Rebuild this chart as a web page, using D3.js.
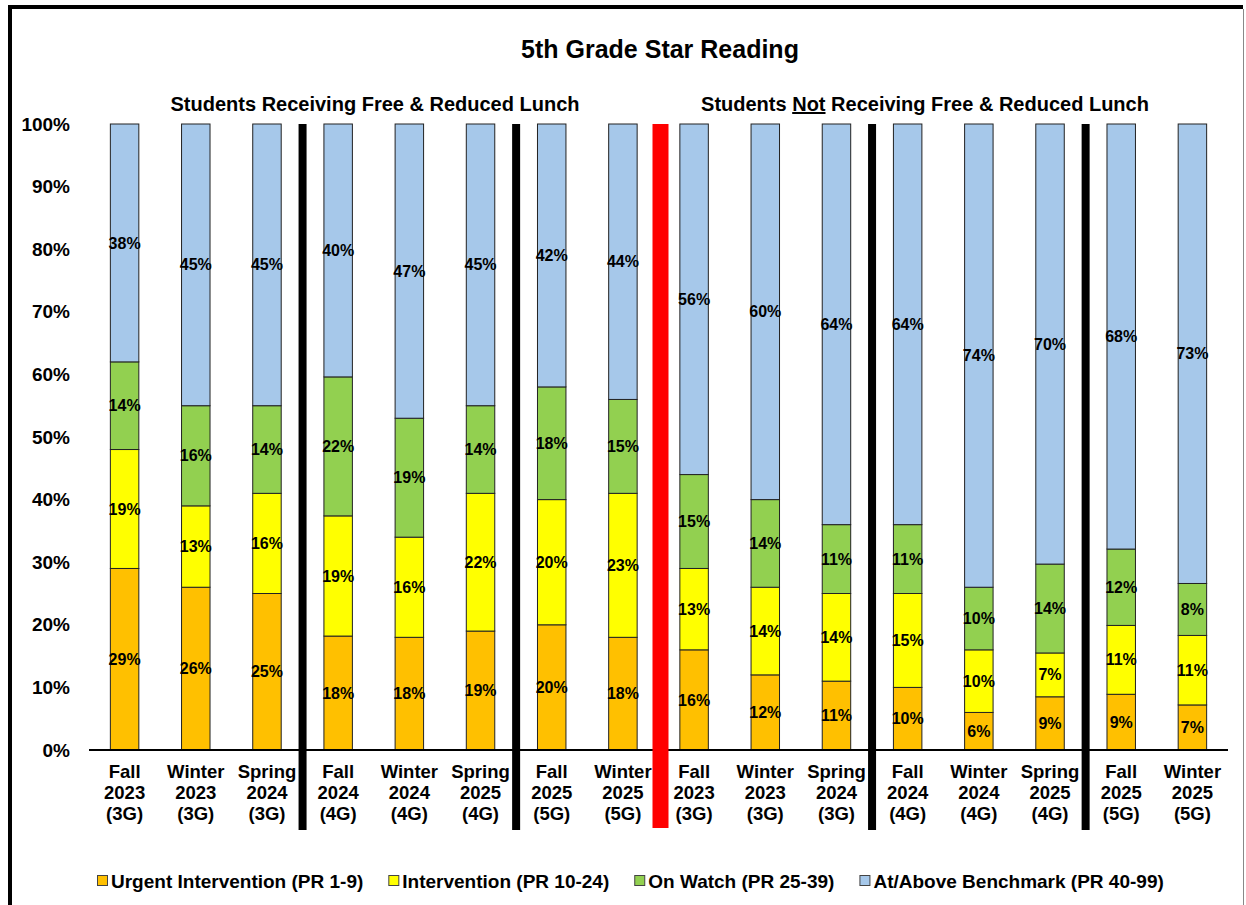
<!DOCTYPE html>
<html>
<head>
<meta charset="utf-8">
<script src="https://cdn.jsdelivr.net/npm/d3@7"></script>
<style>
    body { margin: 0; background: #fff; }
    text { font-family: "Liberation Sans", Arial, sans-serif; font-weight: bold; fill: #000; }
</style>
</head>
<body>
<div id="content"></div>
<script>
let categories = [
    ["Fall", "2023", "(3G)"], ["Winter", "2023", "(3G)"], ["Spring", "2024", "(3G)"],
    ["Fall", "2024", "(4G)"], ["Winter", "2024", "(4G)"], ["Spring", "2025", "(4G)"],
    ["Fall", "2025", "(5G)"], ["Winter", "2025", "(5G)"],
    ["Fall", "2023", "(3G)"], ["Winter", "2023", "(3G)"], ["Spring", "2024", "(3G)"],
    ["Fall", "2024", "(4G)"], ["Winter", "2024", "(4G)"], ["Spring", "2025", "(4G)"],
    ["Fall", "2025", "(5G)"], ["Winter", "2025", "(5G)"]
];

// percent of students in each band, bottom to top
let urgent       = [29, 26, 25, 18.2, 18, 19, 20, 18, 16, 12, 11, 10, 6, 8.5, 8.9, 7.2];
let intervention = [19, 13, 16, 19.2, 16, 22, 20, 23, 13, 14, 14, 15, 10, 7.0, 11.0, 11.1];
let onWatch      = [14, 16, 14, 22.2, 19, 14, 18, 15, 15, 14, 11, 11, 10, 14.2, 12.2, 8.3];
let benchmark    = [38, 45, 45, 40.4, 47, 45, 42, 44, 56, 60, 64, 64, 74, 70.3, 67.9, 73.4];

let seriesNames = ["Urgent Intervention (PR 1-9)", "Intervention (PR 10-24)", "On Watch (PR 25-39)", "At/Above Benchmark (PR 40-99)"];
let seriesColors = ["#FFC000", "#FFFF00", "#92D050", "#A6C8EA"];

let yTicks = [0, 10, 20, 30, 40, 50, 60, 70, 80, 90, 100];

// separators sit between categories: index of the bar to the right
let blackSeparators = [3, 6, 11, 14];
let redSeparators = [8];

const width = 1246, height = 905;
const plot = {left: 89, right: 1228, top: 124, bottom: 750};

let svg = d3.select("#content")
    .append("svg")
    .attr("width", width)
    .attr("height", height);

// frame
svg.append("line").attr("x1", 8).attr("x2", 1243).attr("y1", 7).attr("y2", 7)
    .attr("stroke", "#000").attr("stroke-width", 4);
svg.append("line").attr("x1", 10).attr("x2", 10).attr("y1", 5).attr("y2", height)
    .attr("stroke", "#000").attr("stroke-width", 4);
svg.append("line").attr("x1", 1243.5).attr("x2", 1243.5).attr("y1", 9).attr("y2", height)
    .attr("stroke", "#888").attr("stroke-width", 1);

const x = d3.scaleBand()
    .domain(d3.range(categories.length))
    .range([plot.left, plot.right])
    .paddingInner(0.6)
    .paddingOuter(0.3);

const y = d3.scaleLinear()
    .domain([0, 100])
    .range([plot.bottom, plot.top]);

let rows = categories.map(function(c, i)
{
    return {i: i, s0: urgent[i], s1: intervention[i], s2: onWatch[i], s3: benchmark[i]};
});

let stack = d3.stack().keys(["s0", "s1", "s2", "s3"]);
let layers = stack(rows);

// y axis labels
let yAxis = svg.append("g")
    .attr("transform", "translate(" + (plot.left - 19) + ",0)")
    .call(d3.axisLeft(y).tickValues(yTicks).tickSize(0).tickFormat(function(d) { return d + "%"; }));
yAxis.select(".domain").remove();
yAxis.selectAll("text")
    .attr("x", 0)
    .style("font-family", "Liberation Sans, Arial, sans-serif")
    .style("font-weight", "bold")
    .style("font-size", "19px")
    .attr("fill", "#000");

// bars
let layerG = svg.append("g")
    .selectAll("g")
    .data(layers)
    .enter()
    .append("g")
    .attr("fill", function(d, k) { return seriesColors[k]; });

layerG.selectAll("rect")
    .data(function(d) { return d; })
    .enter()
    .append("rect")
    .attr("x", function(d) { return x(d.data.i); })
    .attr("width", x.bandwidth())
    .attr("y", function(d) { return y(d[1]); })
    .attr("height", function(d) { return y(d[0]) - y(d[1]); })
    .attr("stroke", "#222")
    .attr("stroke-width", 1);

layerG.selectAll("text")
    .data(function(d) { return d; })
    .enter()
    .append("text")
    .attr("x", function(d) { return x(d.data.i) + x.bandwidth() / 2; })
    .attr("y", function(d) { return (y(d[0]) + y(d[1])) / 2; })
    .attr("dy", "0.35em")
    .attr("text-anchor", "middle")
    .style("font-size", "16px")
    .text(function(d) { return Math.round(d[1] - d[0]) + "%"; });

// x axis line
svg.append("line")
    .attr("x1", plot.left).attr("x2", plot.right)
    .attr("y1", y(0)).attr("y2", y(0))
    .attr("stroke", "#000")
    .attr("stroke-width", 2);

// category labels
let catLabels = svg.append("g")
    .selectAll("text")
    .data(categories)
    .enter()
    .append("text")
    .attr("x", function(d, i) { return x(i) + x.bandwidth() / 2; })
    .attr("y", 778)
    .attr("text-anchor", "middle")
    .style("font-size", "18.5px");

catLabels.selectAll("tspan")
    .data(function(d) { return d; })
    .enter()
    .append("tspan")
    .attr("x", function() { return d3.select(this.parentNode).attr("x"); })
    .attr("dy", function(d, k) { return k == 0 ? 0 : 21; })
    .text(function(d) { return d; });

// separators
let step = x.step();
function boundary(i)
{
    return x(i) - step * x.paddingInner() / 2;
}

svg.append("g")
    .selectAll("rect")
    .data(blackSeparators)
    .enter()
    .append("rect")
    .attr("x", function(d) { return boundary(d) - 4; })
    .attr("width", 8)
    .attr("y", y(100))
    .attr("height", 830 - y(100))
    .attr("fill", "#000");

svg.append("g")
    .selectAll("rect")
    .data(redSeparators)
    .enter()
    .append("rect")
    .attr("x", function(d) { return boundary(d) - 6; })
    .attr("width", 16)
    .attr("y", y(100))
    .attr("height", 828 - y(100))
    .attr("fill", "#FF0000");

// titles
svg.append("text")
    .attr("x", 660)
    .attr("y", 58)
    .attr("text-anchor", "middle")
    .style("font-size", "25px")
    .text("5th Grade Star Reading");

svg.append("text")
    .attr("x", 375)
    .attr("y", 111)
    .attr("text-anchor", "middle")
    .style("font-size", "20px")
    .text("Students Receiving Free & Reduced Lunch");

let sub2 = svg.append("text")
    .attr("x", 925)
    .attr("y", 111)
    .attr("text-anchor", "middle")
    .style("font-size", "20px");
sub2.append("tspan").text("Students ");
sub2.append("tspan").attr("text-decoration", "underline").style("text-decoration", "underline").text("Not");
sub2.append("tspan").text(" Receiving Free & Reduced Lunch");

// legend
let legend = svg.append("g").attr("transform", "translate(97,881)");
let legendX = 0;
seriesNames.forEach(function(name, k)
{
    let item = legend.append("g").attr("transform", "translate(" + legendX + ",0)");
    item.append("rect")
        .attr("x", 0.5).attr("y", -5.5)
        .attr("width", 10).attr("height", 10)
        .attr("fill", seriesColors[k])
        .attr("stroke", "#444");
    let t = item.append("text")
        .attr("x", 14)
        .attr("dy", "0.35em")
        .style("font-size", "19px")
        .text(name);
    legendX += 14 + t.node().getComputedTextLength() + 25;
});
</script>
</body>
</html>
